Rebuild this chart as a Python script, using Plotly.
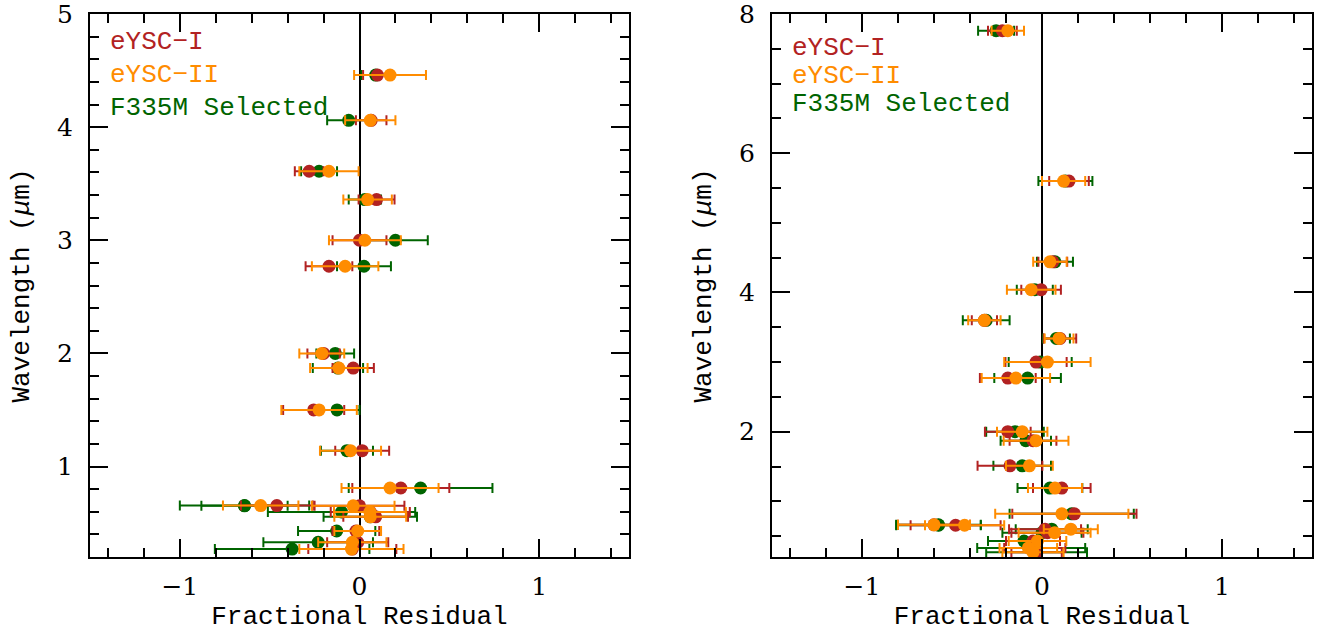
import plotly.graph_objects as go
from plotly.subplots import make_subplots

# ---------------- Left panel data ----------------
L_WAVE = [4.46, 4.06, 3.61, 3.36, 3.00, 2.77, 2.00, 1.87, 1.50, 1.14, 0.81,
          0.655, 0.652, 0.598, 0.555, 0.43, 0.33, 0.27]
L_RED = [0.10, 0.065, -0.28, 0.095, 0.0, -0.17, -0.20, -0.035, -0.255, 0.015, 0.23,
         -0.46, 0.0, 0.06, 0.09, -0.02, -0.01, -0.04]
L_RED_ERR = [0.08, 0.085, 0.08, 0.10, 0.15, 0.13, 0.09, 0.115, 0.17, 0.15, 0.27,
             0.20, 0.25, 0.22, 0.18, 0.13, 0.17, 0.245]
L_ORANGE = [0.17, 0.06, -0.17, 0.045, 0.03, -0.08, -0.21, -0.115, -0.225, -0.05, 0.17,
            -0.55, -0.035, 0.058, 0.06, -0.01, -0.04, -0.045]
L_ORANGE_ERR = [0.20, 0.14, 0.165, 0.135, 0.20, 0.185, 0.125, 0.16, 0.21, 0.17, 0.27,
                0.21, 0.23, 0.20, 0.20, 0.13, 0.19, 0.29]
L_GREEN = [0.09, -0.06, -0.225, 0.03, 0.20, 0.025, -0.135, -0.12, -0.125, -0.07, 0.34,
           -0.64, -0.64, -0.10, 0.06, -0.127, -0.23, -0.375]
L_GREEN_ERR = [0.08, 0.12, 0.10, 0.09, 0.18, 0.15, 0.105, 0.14, 0.125, 0.145, 0.40,
               0.36, 0.24, 0.41, 0.26, 0.215, 0.305, 0.43]

# ---------------- Right panel data ----------------
R_WAVE = [7.76, 5.60, 4.44, 4.04, 3.60, 3.34, 3.00, 2.77, 2.00, 1.87, 1.51, 1.19,
          0.82, 0.662, 0.656, 0.60, 0.55, 0.43, 0.33, 0.27]
R_RED = [-0.22, 0.15, 0.06, -0.005, -0.32, 0.10, -0.033, -0.19, -0.19, -0.05, -0.178, 0.11,
         0.18, -0.60, -0.48, 0.017, 0.03, -0.05, -0.04, -0.03]
R_RED_ERR = [0.08, 0.11, 0.08, 0.11, 0.07, 0.09, 0.17, 0.155, 0.127, 0.13, 0.18, 0.16,
             0.345, 0.20, 0.25, 0.20, 0.20, 0.15, 0.17, 0.14]
R_ORANGE = [-0.19, 0.12, 0.044, -0.06, -0.32, 0.095, 0.03, -0.145, -0.11, -0.033, -0.07, 0.072,
            0.11, -0.60, -0.43, 0.16, 0.07, -0.025, -0.076, -0.05]
R_ORANGE_ERR = [0.09, 0.12, 0.093, 0.135, 0.09, 0.08, 0.24, 0.19, 0.14, 0.18, 0.13, 0.15,
                0.37, 0.20, 0.22, 0.15, 0.20, 0.16, 0.16, 0.17]
R_GREEN = [-0.255, 0.13, 0.072, -0.04, -0.31, 0.08, -0.01, -0.08, -0.15, -0.09, -0.11, 0.044,
           0.165, -0.575, -0.575, 0.054, 0.0, -0.10, -0.06, -0.03]
R_GREEN_ERR = [0.10, 0.15, 0.10, 0.10, 0.13, 0.075, 0.175, 0.185, 0.16, 0.14, 0.16, 0.18,
               0.345, 0.235, 0.235, 0.20, 0.22, 0.20, 0.30, 0.28]

LEGEND = ["eYSC\u2212I", "eYSC\u2212II", "F335M Selected"]
COL_RED = "#B22222"
COL_ORANGE = "#FF8C00"
COL_GREEN = "#006400"

fig = make_subplots(rows=1, cols=2)


def add_series(x, err, y, color, col):
    fig.add_trace(go.Scatter(
        x=x, y=y, mode="markers",
        marker=dict(color=color, size=13, line=dict(width=0)),
        error_x=dict(type="data", array=err, visible=True, color=color,
                     thickness=2, width=5),
        showlegend=False, hoverinfo="x+y"), row=1, col=col)


for col, (w, r, re, o, oe, g, ge) in enumerate([
        (L_WAVE, L_RED, L_RED_ERR, L_ORANGE, L_ORANGE_ERR, L_GREEN, L_GREEN_ERR),
        (R_WAVE, R_RED, R_RED_ERR, R_ORANGE, R_ORANGE_ERR, R_GREEN, R_GREEN_ERR)], start=1):
    add_series(g, ge, w, COL_GREEN, col)
    add_series(r, re, w, COL_RED, col)
    add_series(o, oe, w, COL_ORANGE, col)

TICKFONT = dict(family="DejaVu Serif", size=25, color="black")
TITLEFONT = dict(family="Liberation Mono", size=26, color="black")

xaxis_common = dict(
    range=[-1.5, 1.5], dtick=1, tick0=0, ticks="inside", ticklen=18, tickwidth=1.5,
    tickcolor="black", showline=True, linecolor="black", linewidth=2, mirror="allticks",
    showgrid=False, zeroline=True, zerolinecolor="black", zerolinewidth=2,
    tickfont=TICKFONT, ticklabelstandoff=6, automargin=False, ticklabeloverflow="allow",
    minor=dict(dtick=0.2, ticks="inside", ticklen=9, tickwidth=1.5, tickcolor="black", showgrid=False),
    title=dict(text="Fractional Residual", font=TITLEFONT, standoff=6),
)
fig.update_xaxes(**xaxis_common)

yaxis_common = dict(
    ticks="inside", ticklen=18, tickwidth=1.5, tickcolor="black", showline=True,
    linecolor="black", linewidth=2, mirror="allticks", showgrid=False, zeroline=False,
    tickfont=TICKFONT, ticklabelstandoff=10, automargin=False, ticklabeloverflow="allow",
    title=dict(text="Wavelength (<i>\u03bc</i>m)", font=TITLEFONT, standoff=20),
)
fig.update_yaxes(**yaxis_common)
fig.update_yaxes(range=[0.2, 5], dtick=1, tick0=0,
                 minor=dict(dtick=0.2, ticks="inside", ticklen=9, tickwidth=1.5,
                            tickcolor="black", showgrid=False), row=1, col=1)
fig.update_yaxes(range=[0.2, 8], dtick=2, tick0=0,
                 minor=dict(dtick=0.5, ticks="inside", ticklen=9, tickwidth=1.5,
                            tickcolor="black", showgrid=False), row=1, col=2)

W, H = 1325, 635
ml, mr, mt, mb = 90, 13, 14, 78
pw = W - ml - mr
fig.update_layout(
    width=W, height=H,
    margin=dict(l=ml, r=mr, t=mt, b=mb, autoexpand=False),
    paper_bgcolor="white", plot_bgcolor="white",
    xaxis=dict(domain=[0, (629 - ml) / pw]),
    xaxis2=dict(domain=[(772 - ml) / pw, 1.0]),
)

leg_cols = [COL_RED, COL_ORANGE, COL_GREEN]
left_y = [0.948, 0.888, 0.827]
right_y = [0.937, 0.886, 0.834]
for xr, yr, ys in [("x domain", "y domain", left_y), ("x2 domain", "y2 domain", right_y)]:
    for txt, c, yy in zip(LEGEND, leg_cols, ys):
        fig.add_annotation(text=txt, xref=xr, yref=yr, x=0.033, y=yy,
                           xanchor="left", yanchor="middle", showarrow=False,
                           font=dict(family="Liberation Mono", size=26, color=c))

fig.write_html("out.html", config=dict(displayModeBar=False),
               post_script="document.body.style.margin='0';document.body.style.overflow='hidden';")
